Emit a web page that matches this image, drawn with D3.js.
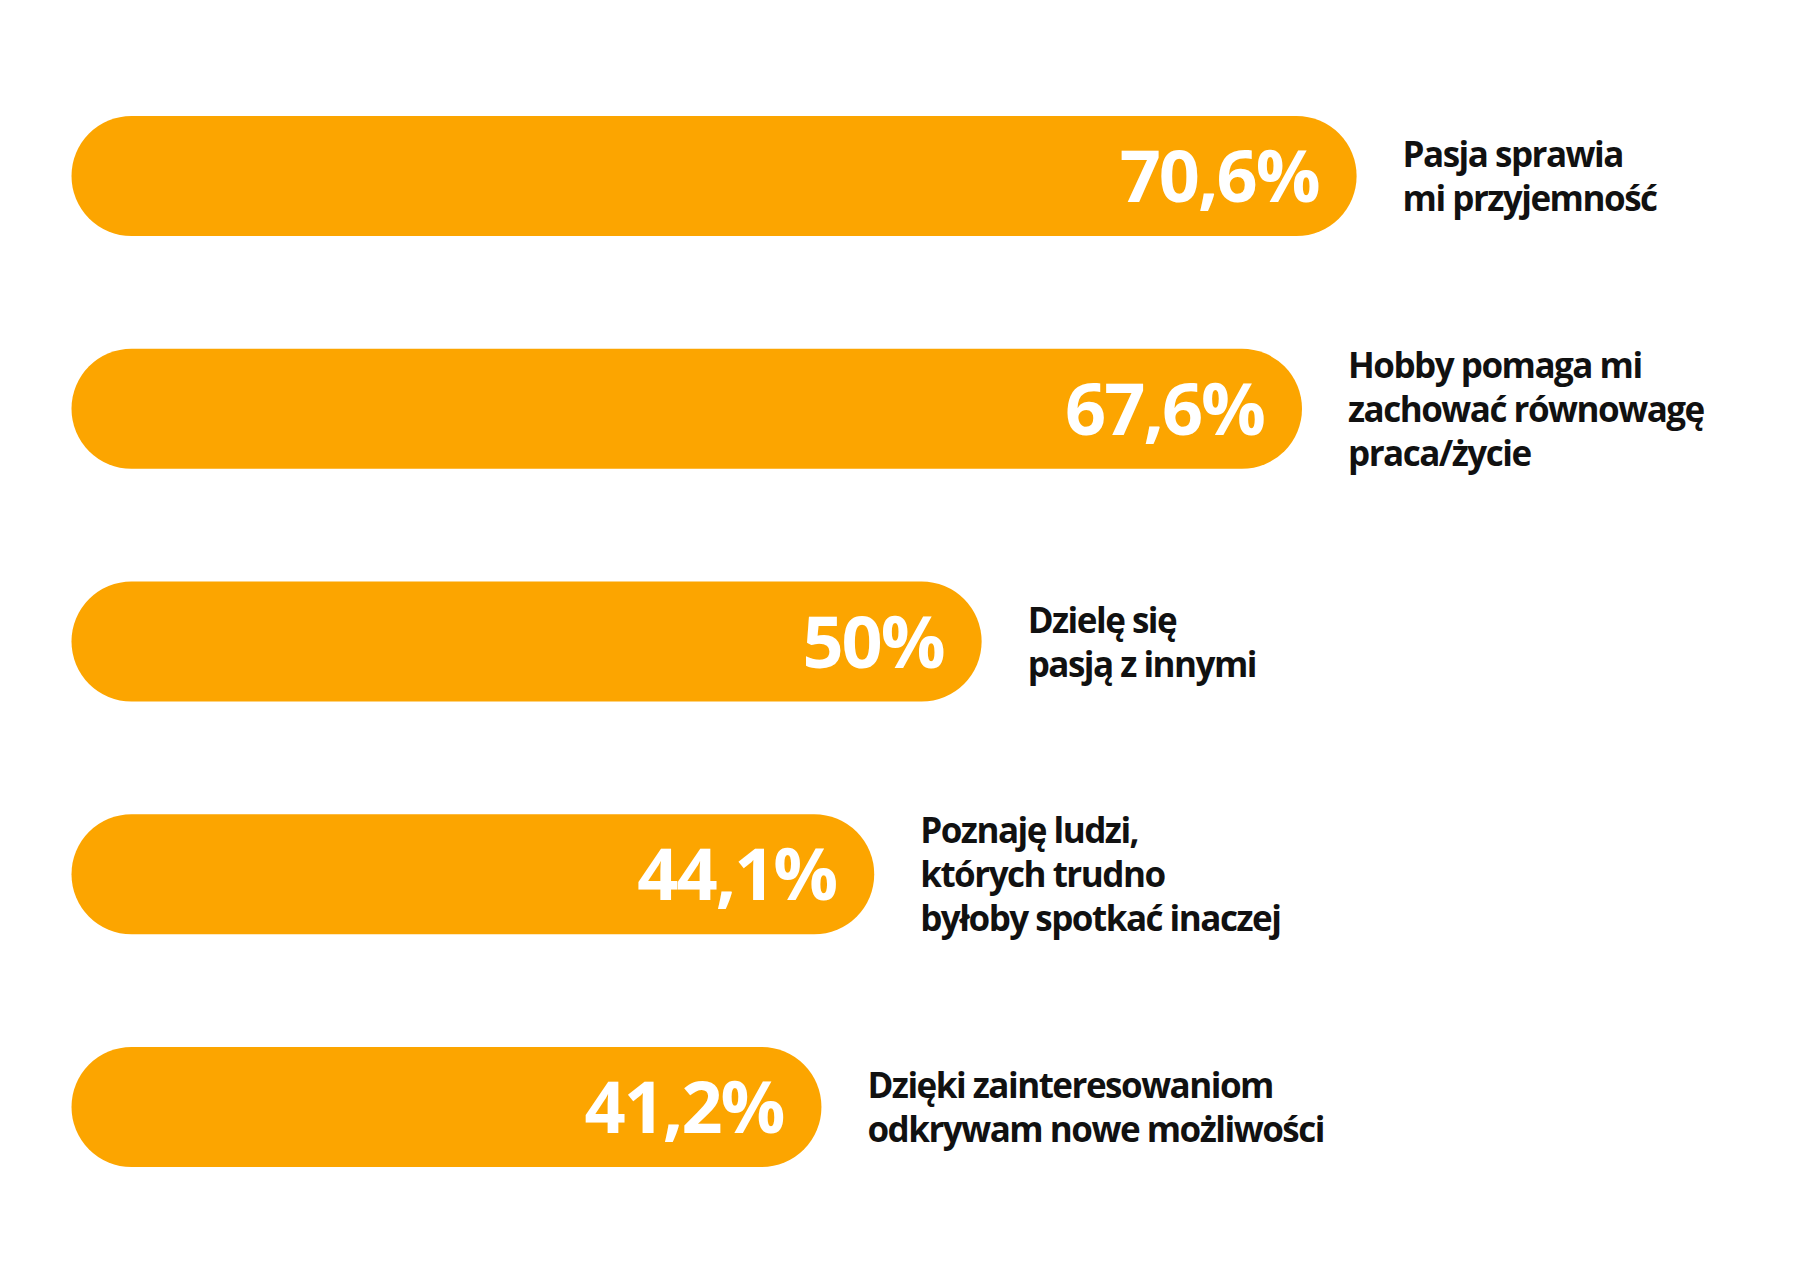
<!DOCTYPE html>
<html>
<head>
<meta charset="utf-8">
<script src="https://cdn.jsdelivr.net/npm/d3@7"></script>
<style>
  body { margin: 0; background: #fff; }
  svg { display: block; }
</style>
</head>
<body>
<div id="chart"></div>
<script>
const categories = [
  ['Pasja sprawia', 'mi przyjemność'],
  ['Hobby pomaga mi', 'zachować równowagę', 'praca/życie'],
  ['Dzielę się', 'pasją z innymi'],
  ['Poznaję ludzi,', 'których trudno', 'byłoby spotkać inaczej'],
  ['Dzięki zainteresowaniom', 'odkrywam nowe możliwości']
];
const values = [70.6, 67.6, 50, 44.1, 41.2];
const valueLabels = ['70,6%', '67,6%', '50%', '44,1%', '41,2%'];

const W = 1798, H = 1272;
const barH = 120;

const svg = d3.select('#chart').append('svg')
  .attr('width', W)
  .attr('height', H);

const x = d3.scaleLinear().domain([0, 70.6]).range([71.5, 1356.6]);
const y = d3.scalePoint().domain(d3.range(values.length)).range([176, 1107]);

const rows = svg.selectAll('g.row')
  .data(values)
  .join('g')
  .attr('class', 'row')
  .attr('transform', (d, i) => `translate(0,${y(i)})`);

rows.append('rect')
  .attr('x', x(0))
  .attr('y', -barH / 2)
  .attr('width', d => x(d) - x(0))
  .attr('height', barH)
  .attr('rx', barH / 2)
  .attr('ry', barH / 2)
  .attr('fill', '#fca500');

rows.append('text')
  .attr('x', d => x(d) - 38)
  .attr('y', 26)
  .attr('text-anchor', 'end')
  .attr('fill', '#fff')
  .style('font-family', '"Open Sans", sans-serif')
  .style('font-weight', 700)
  .style('font-size', '72px')
  .style('letter-spacing', '-2px')
  .text((d, i) => valueLabels[i]);

const lineH = 44;
rows.append('text')
  .attr('x', d => x(d) + 46)
  .attr('fill', '#111')
  .style('font-family', '"Open Sans", sans-serif')
  .style('font-weight', 700)
  .style('font-size', '35px')
  .style('letter-spacing', '-1.5px')
  .each(function (d, i) {
    const lines = categories[i];
    d3.select(this).selectAll('tspan')
      .data(lines)
      .join('tspan')
      .attr('x', x(d) + 46)
      .attr('y', (l, j) => 13 + (j - (lines.length - 1) / 2) * lineH)
      .text(l => l);
  });
</script>
</body>
</html>
